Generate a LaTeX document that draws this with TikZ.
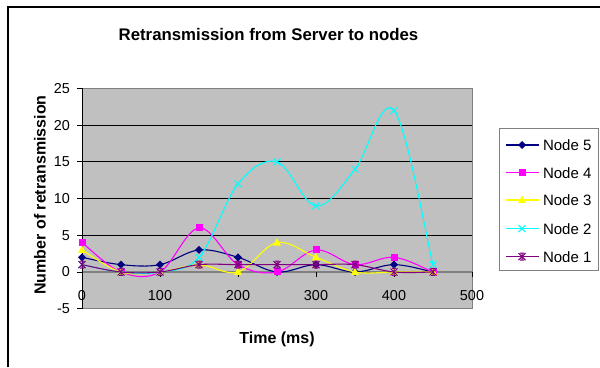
\documentclass[tikz,border=0pt]{standalone}
\usepackage{fontspec}
\setmainfont{Liberation Sans}
\definecolor{plotgray}{HTML}{C0C0C0}
\definecolor{axgray}{HTML}{808080}
\definecolor{cnavy}{HTML}{000080}
\definecolor{cmag}{HTML}{FF00FF}
\definecolor{cyel}{HTML}{FFFF00}
\definecolor{ccyan}{HTML}{00FFFF}
\definecolor{cpurp}{HTML}{800080}
\tikzset{
  s5/.style={cnavy,line width=1.1pt},
  s4/.style={cmag,line width=1.1pt},
  s3/.style={cyel,line width=1.1pt},
  s2/.style={ccyan,line width=1.1pt},
  s1/.style={cpurp,line width=1.1pt},
  mk5/.pic={\fill[cnavy] (0,4pt)--(4pt,0)--(0,-4pt)--(-4pt,0)--cycle;},
  mk4/.pic={\fill[cmag] (-3.5pt,-3.5pt) rectangle (3.5pt,3.5pt);},
  mk3/.pic={\fill[cyel] (0,4.5pt)--(4pt,-3pt)--(-4pt,-3pt)--cycle;},
  mk2/.pic={\draw[ccyan,line width=1pt] (-3.5pt,-3.5pt)--(3.5pt,3.5pt) (-3.5pt,3.5pt)--(3.5pt,-3.5pt);},
  mk1/.pic={\draw[cpurp,line width=1pt] (-3.5pt,-3.5pt)--(3.5pt,3.5pt) (-3.5pt,3.5pt)--(3.5pt,-3.5pt) (0,-3.5pt)--(0,3.5pt) (-2pt,3.5pt)--(2pt,3.5pt) (-2pt,-3.5pt)--(2pt,-3.5pt);},
  ticklbl/.style={font=\fontsize{14.4}{17}\selectfont},
  leglbl/.style={font=\fontsize{15}{18}\selectfont, anchor=west},
  axtitle/.style={font=\bfseries\fontsize{16}{19}\selectfont},
}
\newcommand\crbuild[1]{%
  \def\crlist{#1}%
  \pgfmathsetmacro\crfirst{{\crlist}[0]}%
  \xdef\crp{(0,\crfirst)}%
  \foreach \i in {0,...,8}{%
    \pgfmathtruncatemacro\im{max(\i-1,0)}%
    \pgfmathtruncatemacro\ip{\i+1}%
    \pgfmathtruncatemacro\ipp{min(\i+2,9)}%
    \pgfmathsetmacro\ym{{\crlist}[\im]}%
    \pgfmathsetmacro\yi{{\crlist}[\i]}%
    \pgfmathsetmacro\yp{{\crlist}[\ip]}%
    \pgfmathsetmacro\ypp{{\crlist}[\ipp]}%
    \pgfmathsetmacro\cax{50*\i+50*(\ip-\im)/6}%
    \pgfmathsetmacro\cay{\yi+(\yp-\ym)/6}%
    \pgfmathsetmacro\cbx{50*\ip-50*(\ipp-\i)/6}%
    \pgfmathsetmacro\cby{\yp-(\ypp-\yi)/6}%
    \pgfmathsetmacro\xp{50*\ip}%
    \xdef\crp{\crp .. controls (\cax,\cay) and (\cbx,\cby) .. (\xp,\yp)}%
  }%
}
\newcommand\crdraw[2]{\crbuild{#2}\edef\crtmp{\noexpand\draw[#1] \crp;}\crtmp}
\begin{document}
\begin{tikzpicture}[x=1pt,y=1pt, every node/.style={inner sep=0pt, outer sep=0pt}]
\useasboundingbox (0,0) rectangle (600,367);
\draw[line width=1.2pt] (8,0) -- (8,360) -- (600,360);
\node[font=\bfseries\fontsize{16.8}{20}\selectfont] (title) at (268.5,333) {Retransmission from Server to nodes};
\node[axtitle, rotate=90] (ytitle) at (40,172) {Number of retransmission};
\node[axtitle] (xtitle) at (277,28) {Time (ms)};
\begin{scope}[shift={(82,95)}, x=0.78pt, y=7.34pt]
  \fill[plotgray] (0,-5) rectangle (500,25);
  \foreach \v in {5,10,15,20} \draw[black, line width=0.8pt] (0,\v) -- (500,\v);
  \draw[axgray, line width=0.8pt] (0,-5) rectangle (500,25);
  \draw[axgray, line width=1.6pt] (0,0) -- (500,0);
  \draw[black, line width=0.8pt] (0,-5) -- (0,25);
  \foreach \v in {-5,0,5,10,15,20,25} {
    \draw[black, line width=0.8pt] (0,\v) -- ++(-5pt,0);
    \node[ticklbl, anchor=east] (yl\v) at ([xshift=-12pt]0,\v) {\v};
  }
  \foreach \t in {0,100,200,300,400,500} {
    \draw[black, line width=0.8pt] (\t,0) -- ++(0,-5pt);
    \node[ticklbl] (xl\t) at ([yshift=-24pt]\t,0) {\t};
  }
  % Node 5
  \crdraw{s5}{2,1,1,3,2,0,1,0,1,0}
  \foreach \v [count=\k from 0] in {2,1,1,3,2,0,1,0,1,0} \pic at ({50*\k},\v) {mk5};
  % Node 4
  \crdraw{s4}{4,0,0,6,1,0,3,1,2,0}
  \foreach \v [count=\k from 0] in {4,0,0,6,1,0,3,1,2,0} \pic at ({50*\k},\v) {mk4};
  % Node 3
  \crdraw{s3}{3,0,0,1,0,4,2,0,0,0}
  \foreach \v [count=\k from 0] in {3,0,0,1,0,4,2,0,0,0} \pic at ({50*\k},\v) {mk3};
  % Node 2
  \crdraw{s2}{1,0,0,2,12,15,9,14,22,1}
  \foreach \v [count=\k from 0] in {1,0,0,2,12,15,9,14,22,1} \pic at ({50*\k},\v) {mk2};
  % Node 1
  \crdraw{s1}{1,0,0,1,1,1,1,1,0,0}
  \foreach \v [count=\k from 0] in {1,0,0,1,1,1,1,1,0,0} \pic at ({50*\k},\v) {mk1};
\end{scope}
% legend
\draw[axgray, line width=0.8pt] (499,97) rectangle (598.5,239);
\draw[s5] (506,222) -- (539,222); \pic at (522,222) {mk5}; \node[leglbl] (l5) at (543,222) {Node 5};
\draw[s4] (506,194.3) -- (539,194.3); \pic at (522,194.3) {mk4}; \node[leglbl] (l4) at (543,194.3) {Node 4};
\draw[s3] (506,167) -- (539,167); \pic at (522,167) {mk3}; \node[leglbl] (l3) at (543,167) {Node 3};
\draw[s2] (506,138.3) -- (539,138.3); \pic at (522,138.3) {mk2}; \node[leglbl] (l2) at (543,138.3) {Node 2};
\draw[s1] (506,110.3) -- (539,110.3); \pic at (522,110.3) {mk1}; \node[leglbl] (l1) at (543,110.3) {Node 1};
\end{tikzpicture}
\end{document}
